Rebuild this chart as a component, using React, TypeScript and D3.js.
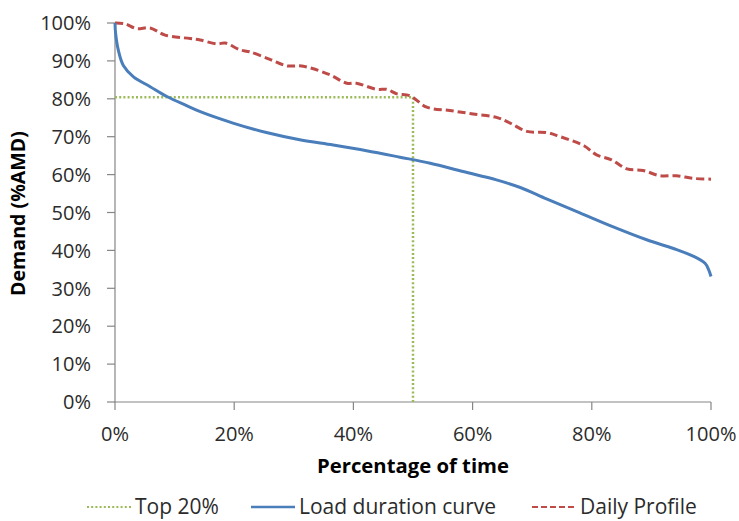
import React from "react";
import * as d3 from "d3";

// Percentage of time (%) and demand (% AMD)
const ldcTime = [0, 0.1, 0.55, 1.4, 3.1, 5.9, 8.7, 12.0, 14.3, 19.8, 25.4, 31.0, 36.6, 42.2, 47.8, 52.9, 58.4, 64.0, 68.0, 72.4, 78.0, 83.6, 89.2, 93.7, 97.0, 99.0, 99.6, 100];
const ldcDemand = [100, 97.3, 92.9, 88.8, 85.8, 83.2, 80.6, 78.2, 76.6, 73.6, 71.1, 69.2, 67.8, 66.3, 64.6, 63.0, 60.8, 58.6, 56.6, 53.6, 49.9, 46.2, 42.8, 40.5, 38.5, 36.6, 34.9, 33.1];

const dailyTime = [0, 1.7, 3.6, 5.9, 8.4, 12.6, 14.3, 17.1, 18.5, 21.0, 22.6, 26.0, 28.8, 31.0, 32.7, 36.1, 38.9, 40.5, 43.9, 45.6, 47.3, 49.5, 52.3, 56.2, 60.1, 64.0, 66.3, 69.1, 72.4, 74.7, 78.7, 80.8, 83.3, 85.9, 88.6, 91.4, 94.2, 97.0, 100];
const dailyDemand = [100, 99.8, 98.5, 98.7, 96.8, 95.9, 95.5, 94.5, 94.7, 92.9, 92.4, 90.4, 88.7, 88.7, 88.2, 86.3, 84.1, 84.1, 82.5, 82.5, 81.3, 80.8, 77.8, 76.9, 76.0, 75.1, 73.6, 71.4, 71.1, 70.0, 67.6, 65.2, 63.9, 61.5, 61.1, 59.7, 59.7, 59.0, 58.8];

const topTime = [0, 50, 50];
const topDemand = [80.4, 80.4, 0];

const xTicks = [0, 20, 40, 60, 80, 100];
const yTicks = [0, 10, 20, 30, 40, 50, 60, 70, 80, 90, 100];

const legendLabels = ["Top 20%", "Load duration curve", "Daily Profile"];
const xTitle = "Percentage of time";
const yTitle = "Demand (%AMD)";

const W = 739, H = 521;
const L = 115, R = 711, T = 23, B = 402;
const FONT = "'Open Sans', 'Noto Sans', sans-serif";
const TXT = "#2b2b2b";
const AX = "#868686";

export default function App() {
  const x = d3.scaleLinear().domain([0, 100]).range([L, R]);
  const y = d3.scaleLinear().domain([0, 100]).range([B, T]);

  const smooth = d3.line<[number, number]>().x(d => x(d[0])).y(d => y(d[1])).curve(d3.curveCatmullRom.alpha(0.5));
  const straight = d3.line<[number, number]>().x(d => x(d[0])).y(d => y(d[1]));

  const ldc = smooth(ldcTime.map((t, i) => [t, ldcDemand[i]]));
  const daily = smooth(dailyTime.map((t, i) => [t, dailyDemand[i]]));
  const top = straight(topTime.map((t, i) => [t, topDemand[i]]));

  const styles = [
    { stroke: "#9bbb59", width: 2.5, dash: "2,2.2" },
    { stroke: "#4a7ebb", width: 3, dash: undefined },
    { stroke: "#be4b48", width: 3, dash: "8,4" },
  ];
  const legendX = [87, 251, 532];
  const legendLen = 44;
  const legendY = 507;

  return (
    <svg width={W} height={H} style={{ position: "absolute", left: 0, top: 0, background: "#fff" }} fontFamily={FONT}>
      {/* axes */}
      <line x1={L} x2={L} y1={T} y2={B} stroke={AX} strokeWidth={1.2} />
      <line x1={L - 0.6} x2={R} y1={B} y2={B} stroke={AX} strokeWidth={1.2} />
      {yTicks.map(v => (
        <g key={"y" + v}>
          <line x1={L - 8} x2={L} y1={y(v)} y2={y(v)} stroke={AX} strokeWidth={1.2} />
          <text x={91} y={y(v)} dy="0.36em" textAnchor="end" fontSize={20} fill={TXT}>{v}%</text>
        </g>
      ))}
      {xTicks.map(v => (
        <g key={"x" + v}>
          <line x1={x(v)} x2={x(v)} y1={B} y2={B + 8} stroke={AX} strokeWidth={1.2} />
          <text x={x(v)} y={441} textAnchor="middle" fontSize={20} fill={TXT}>{v}%</text>
        </g>
      ))}
      {/* series */}
      <path d={top || ""} fill="none" stroke={styles[0].stroke} strokeWidth={styles[0].width} strokeDasharray={styles[0].dash} />
      <path d={daily || ""} fill="none" stroke={styles[2].stroke} strokeWidth={styles[2].width} strokeDasharray={styles[2].dash} />
      <path d={ldc || ""} fill="none" stroke={styles[1].stroke} strokeWidth={styles[1].width} strokeLinejoin="round" />
      {/* titles */}
      <text x={(L + R) / 2} y={473} textAnchor="middle" fontSize={20.3} fontWeight="bold" fill="#000">{xTitle}</text>
      <text transform={`translate(25,${(T + B) / 2 + 1}) rotate(-90)`} textAnchor="middle" fontSize={19.6} fontWeight="bold" fill="#000">{yTitle}</text>
      {/* legend */}
      {legendLabels.map((lab, i) => (
        <g key={lab}>
          <line x1={legendX[i]} x2={legendX[i] + legendLen} y1={legendY} y2={legendY} stroke={styles[i].stroke} strokeWidth={styles[i].dash ? 2.2 : 2.5} strokeDasharray={i === 2 ? "6,3" : styles[i].dash} />
          <text x={legendX[i] + legendLen + 4} y={514} fontSize={21} fill={TXT}>{lab}</text>
        </g>
      ))}
    </svg>
  );
}
